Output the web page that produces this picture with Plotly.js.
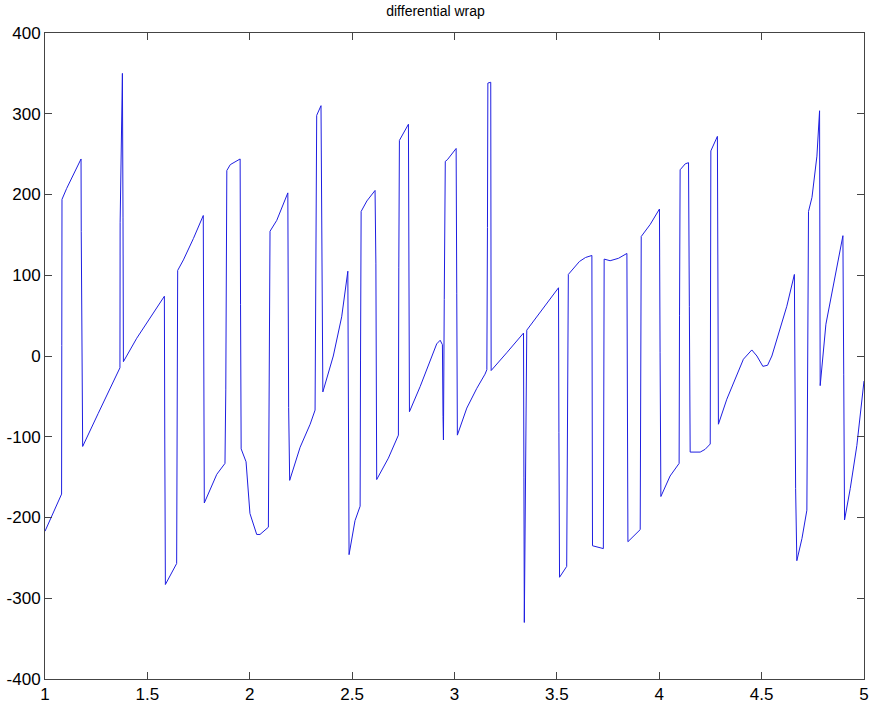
<!DOCTYPE html>
<html>
<head>
<meta charset="utf-8">
<script src="https://cdn.plot.ly/plotly-3.0.1.min.js"></script>
<style>html,body{margin:0;padding:0;background:#fff;}#chart{width:871px;height:706px;}</style>
</head>
<body>
<div id="chart"></div>
<script>
const xs = [1.000,1.033,1.081,1.082,1.083,1.106,1.155,1.176,1.177,1.180,1.184,1.26,1.366,1.367,1.378,1.381,1.383,1.448,1.583,1.585,1.588,1.643,1.645,1.648,1.676,1.725,1.773,1.775,1.778,1.839,1.879,1.883,1.888,1.905,1.953,1.955,1.958,1.982,2.001,2.034,2.050,2.091,2.095,2.099,2.132,2.186,2.190,2.195,2.246,2.295,2.319,2.323,2.327,2.348,2.352,2.357,2.408,2.449,2.479,2.482,2.485,2.514,2.539,2.541,2.544,2.572,2.612,2.616,2.620,2.677,2.726,2.728,2.731,2.775,2.777,2.780,2.832,2.881,2.913,2.930,2.941,2.944,2.946,2.950,2.955,2.965,3.008,3.011,3.014,3.060,3.109,3.149,3.158,3.161,3.163,3.177,3.178,3.179,3.255,3.337,3.339,3.341,3.353,3.508,3.510,3.513,3.548,3.552,3.556,3.610,3.640,3.671,3.672,3.674,3.727,3.729,3.731,3.760,3.801,3.842,3.844,3.847,3.907,3.909,3.912,3.956,4.001,4.004,4.008,4.053,4.097,4.099,4.102,4.127,4.143,4.147,4.151,4.200,4.224,4.249,4.250,4.252,4.284,4.286,4.289,4.330,4.379,4.411,4.452,4.477,4.506,4.529,4.550,4.591,4.623,4.660,4.666,4.672,4.697,4.721,4.725,4.729,4.746,4.770,4.783,4.784,4.786,4.814,4.851,4.897,4.901,4.905,4.933,4.965,5.0];
const ys = [-217,-199,-171,13,194,207.6,234,244,154,-22,-112,-71,-14.6,165,350,172,-7,22,74,-104,-283,-257,-80,106,119,145.6,174,-5,-182,-146.5,-133,-42,229.7,237,244,64,-115,-131,-195,-221,-221,-212,64,154.5,168,202,-64,-154,-113,-84.5,-67,112,298,310,132,-44.5,0,48.5,105,-71,-246,-204,-186,-5,179,192,205,115,-153,-126.5,-98,110,267,287,112,-69,-38,-5,15,19.5,14,-75,-104,70,241,243,257,77,-98,-64.5,-40,-22.5,-17,159,338,339,159,-18,4,28.4,-151,-330,32,84.5,-95,-274,-260.6,-80,101,117,122,124.5,-55.6,-235,-238.5,-60,120,118,121,127,-51,-230,-215,-33,148,163,182,4,-174,-148.6,-133,50.5,230.6,238,239.4,61.6,-119,-119,-115.6,-109,75,254,272,92.6,-84.5,-53.5,-24.7,-4,7.5,0,-12.8,-11.5,0,33,61.6,101,-164,-253.5,-226,-191,-5,179,196.5,247.5,303.7,137,-36.7,39.4,88,149,-22.5,-203,-164,-111,-31];
const xTickVals = [1,1.5,2,2.5,3,3.5,4,4.5,5];
const xTickText = ["1","1.5","2","2.5","3","3.5","4","4.5","5"];
const yTickVals = [-400,-300,-200,-100,0,100,200,300,400];
const yTickText = ["-400","-300","-200","-100","0","100","200","300","400"];
const titleText = "differential wrap";

const axisCommon = {
  showline: true, mirror: 'ticks', linecolor: '#444', linewidth: 1,
  ticks: 'inside', ticklen: 7, tickcolor: '#444', tickwidth: 1,
  showgrid: false, zeroline: false, tickmode: 'array',
  tickfont: {family: 'Liberation Sans, Arial, sans-serif', size: 17, color: '#000'}
};

Plotly.newPlot('chart', [{
  x: xs, y: ys, type: 'scatter', mode: 'lines',
  line: {color: 'rgb(30,30,225)', width: 1}, hoverinfo: 'none'
}], {
  width: 871, height: 706,
  margin: {l: 45, r: 7, t: 33, b: 27},
  paper_bgcolor: '#fff', plot_bgcolor: '#fff',
  showlegend: false,
  title: {text: titleText, x: 0.5, xanchor: 'center', y: 0.984, yref: 'container', yanchor: 'middle',
    font: {family: 'Liberation Sans, Arial, sans-serif', size: 14, color: '#000'}},
  xaxis: Object.assign({}, axisCommon, {range: [1, 5], tickvals: xTickVals, ticktext: xTickText}),
  yaxis: Object.assign({}, axisCommon, {range: [-400, 400], tickvals: yTickVals, ticktext: yTickText})
}, {staticPlot: true});
</script>
</body>
</html>
